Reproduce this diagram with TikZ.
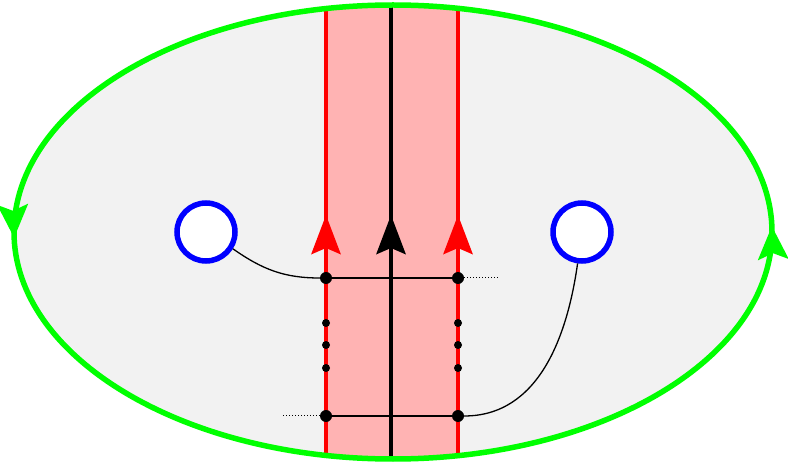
\documentclass[tikz,border=0pt]{standalone}
\usetikzlibrary{arrows.meta, decorations.markings}
\definecolor{stripPink}{RGB}{255,179,179}
\definecolor{diskGray}{RGB}{242,242,242}
\tikzset{
    boundary/.style={draw, green, line width=5.5pt},
    flow/.style={-{Stealth[length=39pt, width=29pt, inset=6pt]}},
    turn/.tip={Stealth[length=33pt, width=30pt, inset=6pt]},
    strand/.style={draw=red, line width=4.8pt},
    core/.style={draw=black, line width=4.8pt},
    puncture/.style={circle, draw=blue, fill=white, line width=5.5pt, minimum size=58pt, inner sep=0pt},
    bigdot/.style={circle, fill=black, minimum size=12pt, inner sep=0pt},
    smalldot/.style={circle, fill=black, minimum size=8pt, inner sep=0pt},
    arc/.style={draw, line width=1.3pt},
    tail/.style={draw, line width=1pt, dotted}
}

\begin{document}
\begin{tikzpicture}[x=1pt, y=1pt]
    \useasboundingbox (0,0) rectangle (788,464);

    % Disk and strip
    \fill[diskGray] (393,232) ellipse [x radius=379, y radius=227];
    \begin{scope}
        \clip (393,232) ellipse [x radius=379, y radius=227];
        \fill[stripPink] (326,0) rectangle (458,464);
        \draw[strand] (326,0) -- (326,464);
        \draw[strand] (458,0) -- (458,464);
        \draw[core] (391,0) -- (391,464);
    \end{scope}

    % Orientation of the strands
    \draw[strand, flow, red] (326,200) -- (326,249);
    \draw[strand, flow, red] (458,200) -- (458,249);
    \draw[core, flow] (391,200) -- (391,249);

    % Boundary
    \draw[boundary, postaction={decorate}, decoration={markings,
        mark=at position 0.003 with {\arrow{turn}},
        mark=at position 0.503 with {\arrow{turn}}}]
        (393,232) ellipse [x radius=379, y radius=227];

    % Punctures
    \node[puncture] (leftHole) at (206,232) {};
    \node[puncture] (rightHole) at (582,232) {};

    % Crossing points
    \node[bigdot] (topLeft) at (326,186) {};
    \node[bigdot] (topRight) at (458,186) {};
    \node[bigdot] (botLeft) at (326,48) {};
    \node[bigdot] (botRight) at (458,48) {};
    \foreach \y in {141,119,96} {
        \node[smalldot] (dotL\y) at (326,\y) {};
        \node[smalldot] (dotR\y) at (458,\y) {};
    }
    \coordinate (topTail) at (500,186);
    \coordinate (botTail) at (283,48);

    % Arcs
    \draw[arc] (leftHole.-32) to[out=-35, in=180] (topLeft);
    \draw[arc] (topLeft) -- (topRight);
    \draw[tail] (topRight) -- (topTail);
    \draw[tail] (botTail) -- (botLeft);
    \draw[arc] (botLeft) -- (botRight);
    \draw[arc] (botRight) to[out=0, in=-98] (rightHole.-98);

\end{tikzpicture}
\end{document}
